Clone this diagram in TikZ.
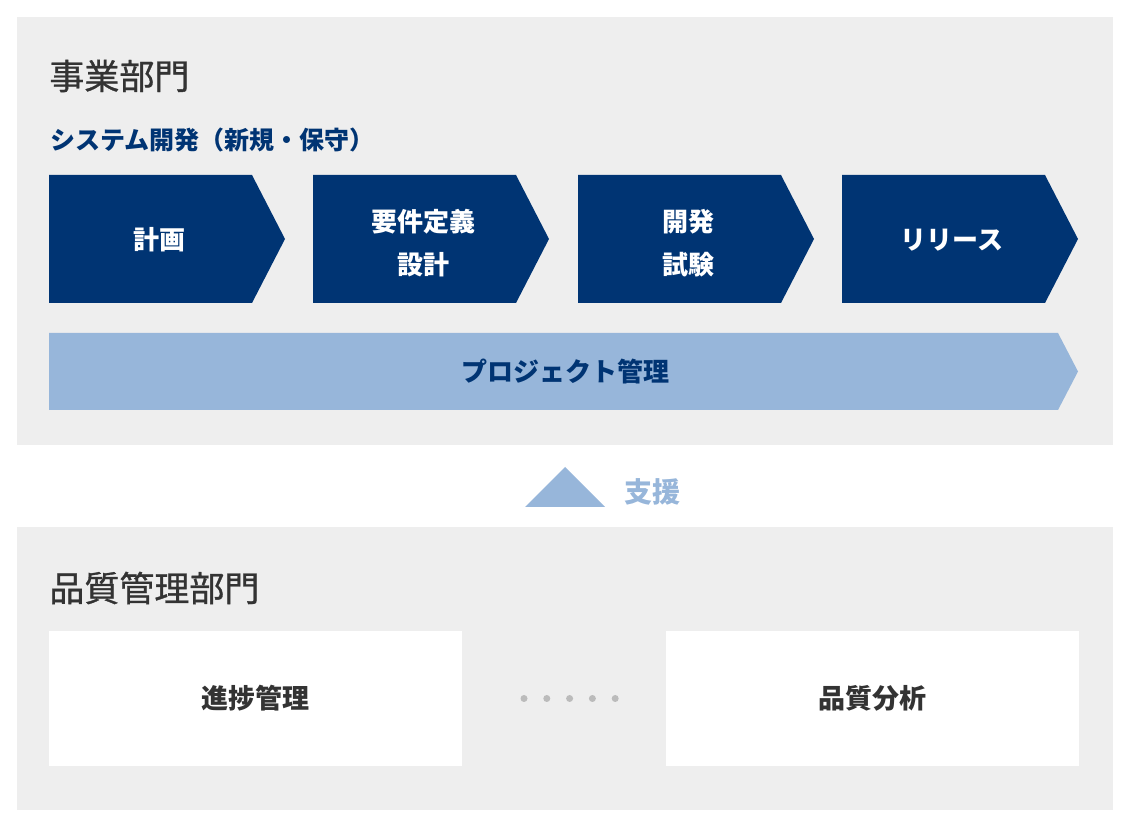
\documentclass[tikz,border=0pt]{standalone}
\usepackage{fontspec}
\setmainfont{Noto Sans CJK JP}
\newfontfamily\medfont[FakeBold=0.9]{Noto Sans CJK JP}
\usepackage{tikz}
\usetikzlibrary{positioning,calc}
\definecolor{panelgray}{RGB}{238,238,238}
\definecolor{deepblue}{RGB}{0,52,115}
\definecolor{paleblue}{RGB}{151,182,218}
\definecolor{inkgray}{RGB}{51,51,51}
\definecolor{dotgray}{RGB}{187,187,187}

\begin{document}
\begin{tikzpicture}[
        x=0.5pt, y=-0.5pt,
        panel/.style={fill=panelgray, draw=none},
        phase/.style={fill=deepblue, draw=none},
        phasetext/.style={text=white, font=\bfseries\fontsize{13}{21.5}\selectfont, align=center, inner sep=0pt},
        heading/.style={text=inkgray, font=\medfont\fontsize{17.5}{21}\selectfont, anchor=west, inner sep=0pt},
        subheading/.style={text=deepblue, font=\bfseries\fontsize{12.5}{15}\selectfont, anchor=west, inner sep=0pt},
        taskbox/.style={fill=white, draw=none, minimum width=206.5pt, minimum height=67.5pt, inner sep=0pt, text=inkgray, font=\bfseries\fontsize{13.5}{16}\selectfont}
    ]
        \useasboundingbox (0,0) rectangle (1131,828);

        % business division
        \fill[panel] (17,17) rectangle (1113,445);
        \node[heading] (bizhead) at (49,76) {事業部門};
        \node[subheading] (devhead) at (50,140) {システム開発（新規・保守）};

        \foreach \x/\ty/\txt [count=\i] in {49/240/{計画}, 313/243/{要件定義\\設計}, 578/243/{開発\\試験}, 842/240/{リリース}} {
            \fill[phase] (\x,175) -- ++(203,0) -- ++(33,64) -- ++(-33,64) -- ++(-203,0) -- cycle;
            \node[phasetext] (phase\i) at (\x+110,\ty) {\txt};
        }

        \fill[paleblue] (49,333) -- (1058,333) -- (1078,371.5) -- (1058,410) -- (49,410) -- cycle;
        \node[text=deepblue, font=\bfseries\fontsize{13}{16}\selectfont, inner sep=0pt] (pm) at (565,372) {プロジェクト管理};

        % support
        \fill[paleblue] (565,467) -- (605,507) -- (525,507) -- cycle;
        \node[text=paleblue, font=\bfseries\fontsize{14}{16}\selectfont, anchor=west, inner sep=0pt] (support) at (624,492) {支援};

        % quality division
        \fill[panel] (17,527) rectangle (1113,810);
        \node[heading] (qahead) at (49,588) {品質管理部門};
        \node[taskbox] (progress) at (255.5,698.5) {進捗管理};
        \node[taskbox] (analysis) at (872,698.5) {品質分析};
        \foreach \d in {0,...,4}
            \fill[dotgray] (524+\d*22.8,698.5) circle (3.5);
    \end{tikzpicture}
\end{document}
